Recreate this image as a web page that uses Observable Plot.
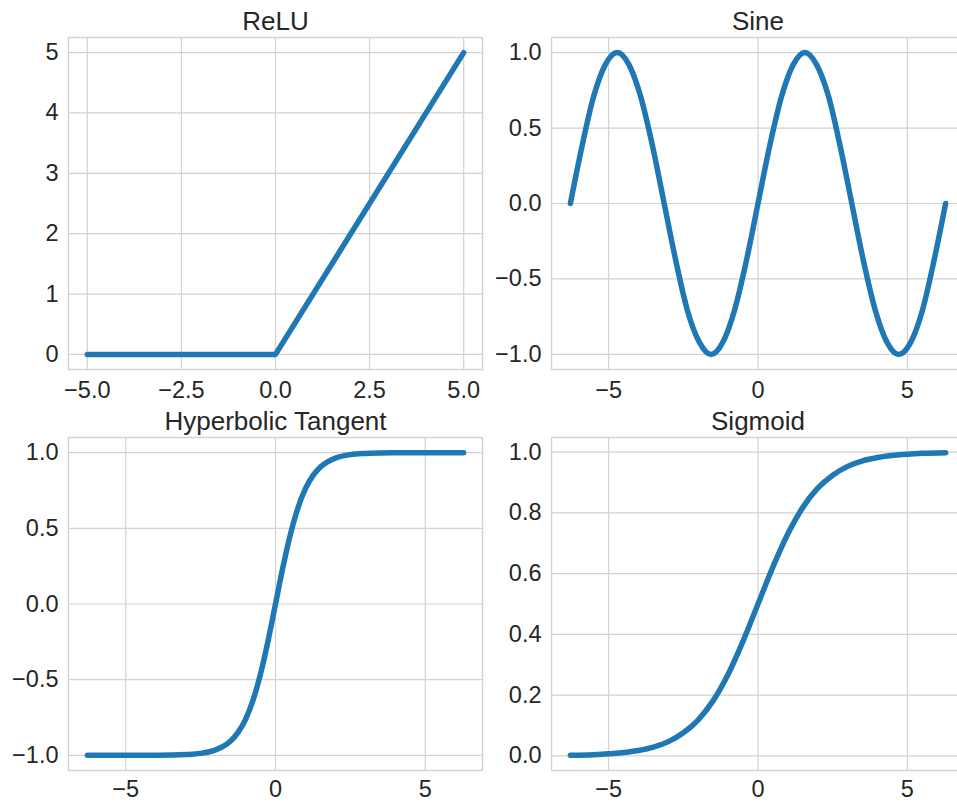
<!DOCTYPE html>
<html>
<head>
<meta charset="utf-8">
<script src="https://cdn.jsdelivr.net/npm/d3@7"></script>
<script src="https://cdn.jsdelivr.net/npm/@observablehq/plot@0.6"></script>
<style>
  html, body { margin: 0; padding: 0; background: #fff; overflow: hidden; }
  #wrap { position: relative; width: 957px; height: 802px; overflow: hidden; background: #fff; }
  #wrap > svg { position: absolute; overflow: visible; }
</style>
</head>
<body>
<div id="wrap"></div>
<script>
// ---- Data ----
const titles = ["ReLU", "Sine", "Hyperbolic Tangent", "Sigmoid"];

const reluX = [-5, 0, 5];
const reluY = [0, 0, 5];

const sineX = [-6.28, -5.89, -5.50, -5.11, -4.71, -4.32, -3.93, -3.53, -3.14, -2.75, -2.36, -1.96, -1.57, -1.18, -0.79, -0.39, 0,
               0.39, 0.79, 1.18, 1.57, 1.96, 2.36, 2.75, 3.14, 3.53, 3.93, 4.32, 4.71, 5.11, 5.50, 5.89, 6.28];
const sineY = [0, 0.38, 0.71, 0.92, 1.0, 0.92, 0.71, 0.38, 0, -0.38, -0.71, -0.92, -1.0, -0.92, -0.71, -0.38, 0,
               0.38, 0.71, 0.92, 1.0, 0.92, 0.71, 0.38, 0, -0.38, -0.71, -0.92, -1.0, -0.92, -0.71, -0.38, 0];

const tanhX = [-6.28, -5, -4, -3.5, -3, -2.5, -2, -1.75, -1.5, -1.25, -1, -0.75, -0.5, -0.25, 0,
               0.25, 0.5, 0.75, 1, 1.25, 1.5, 1.75, 2, 2.5, 3, 3.5, 4, 5, 6.28];
const tanhY = [-1.0, -1.0, -0.999, -0.998, -0.995, -0.987, -0.964, -0.941, -0.905, -0.848, -0.762, -0.635, -0.462, -0.245, 0,
               0.245, 0.462, 0.635, 0.762, 0.848, 0.905, 0.941, 0.964, 0.987, 0.995, 0.998, 0.999, 1.0, 1.0];

const sigX = [-6.28, -5.5, -5, -4, -3.5, -3, -2.5, -2, -1.5, -1, -0.5, 0, 0.5, 1, 1.5, 2, 2.5, 3, 3.5, 4, 5, 5.5, 6.28];
const sigY = [0.002, 0.004, 0.007, 0.018, 0.029, 0.047, 0.076, 0.119, 0.182, 0.269, 0.378, 0.5, 0.622, 0.731, 0.818, 0.881, 0.924, 0.953, 0.971, 0.982, 0.993, 0.996, 0.998];

// tick values
const reluXTicks = [-5, -2.5, 0, 2.5, 5];
const reluYTicks = [0, 1, 2, 3, 4, 5];
const wideXTicks = [-5, 0, 5];
const sineYTicks = [-1, -0.5, 0, 0.5, 1];
const sigYTicks = [0, 0.2, 0.4, 0.6, 0.8, 1.0];

// ---- drawing ----
const BLUE = "#1f77b4";
const GRID = "#d2d2d2";
const TICK_FS = 23.5;
const TITLE_FS = 26;
const fmt1 = d => d3.format(".1f")(d).replace("-", "\u2212");
const fmt0 = d => d3.format("d")(d).replace("-", "\u2212");

function panel({title, xs, ys, curve, xDomain, yDomain, xTicks, yTicks, xFmt, yFmt, xPad, left, top, width, height, ml, mr, mt, mb}) {
  const data = xs.map((x, i) => ({x, y: ys[i]}));
  const p = Plot.plot({
    width, height,
    marginLeft: ml, marginRight: mr, marginTop: mt, marginBottom: mb,
    style: {fontFamily: "'Liberation Sans', Arial, sans-serif", fontSize: TICK_FS + "px", color: "#262626", background: "transparent", overflow: "visible"},
    x: {domain: xDomain},
    y: {domain: yDomain},
    marks: [
      Plot.gridX(xTicks, {stroke: GRID, strokeOpacity: 1, strokeWidth: 1.2}),
      Plot.gridY(yTicks, {stroke: GRID, strokeOpacity: 1, strokeWidth: 1.2}),
      Plot.frame({stroke: GRID, strokeWidth: 1.4}),
      Plot.axisX({ticks: xTicks, tickFormat: xFmt, tickSize: 0, tickPadding: xPad, label: null, fontSize: TICK_FS}),
      Plot.axisY({ticks: yTicks, tickFormat: yFmt, tickSize: 0, tickPadding: 10, label: null, fontSize: TICK_FS}),
      Plot.line(data, {x: "x", y: "y", stroke: BLUE, strokeWidth: 5.5, curve, strokeLinecap: "round", strokeLinejoin: "round"}),
      Plot.text([title], {frameAnchor: "top", dy: -8, lineAnchor: "bottom", fontSize: TITLE_FS, fill: "#262626"})
    ]
  });
  p.style.left = left + "px";
  p.style.top = top + "px";
  document.getElementById("wrap").appendChild(p);
}

const wideDomain = [-6.912, 6.912];

panel({title: titles[0], xs: reluX, ys: reluY, curve: "linear", xDomain: [-5.5, 5.5], yDomain: [-0.25, 5.25],
       xTicks: reluXTicks, yTicks: reluYTicks, xFmt: fmt1, yFmt: fmt0, xPad: 12,
       left: 0, top: 0, width: 490, height: 400, ml: 68, mr: 8, mt: 37, mb: 31});
panel({title: titles[1], xs: sineX, ys: sineY, curve: "monotone-x", xDomain: wideDomain, yDomain: [-1.1, 1.1],
       xTicks: wideXTicks, yTicks: sineYTicks, xFmt: fmt0, yFmt: fmt1, xPad: 12,
       left: 490, top: 0, width: 482, height: 400, ml: 61, mr: 8, mt: 37, mb: 31});
panel({title: titles[2], xs: tanhX, ys: tanhY, curve: "monotone-x", xDomain: wideDomain, yDomain: [-1.1, 1.1],
       xTicks: wideXTicks, yTicks: sineYTicks, xFmt: fmt0, yFmt: fmt1, xPad: 10,
       left: 0, top: 400, width: 490, height: 402, ml: 68, mr: 8, mt: 37, mb: 32});
panel({title: titles[3], xs: sigX, ys: sigY, curve: "monotone-x", xDomain: wideDomain, yDomain: [-0.048, 1.048],
       xTicks: wideXTicks, yTicks: sigYTicks, xFmt: fmt0, yFmt: fmt1, xPad: 10,
       left: 490, top: 400, width: 482, height: 402, ml: 61, mr: 8, mt: 37, mb: 32});
</script>
</body>
</html>
